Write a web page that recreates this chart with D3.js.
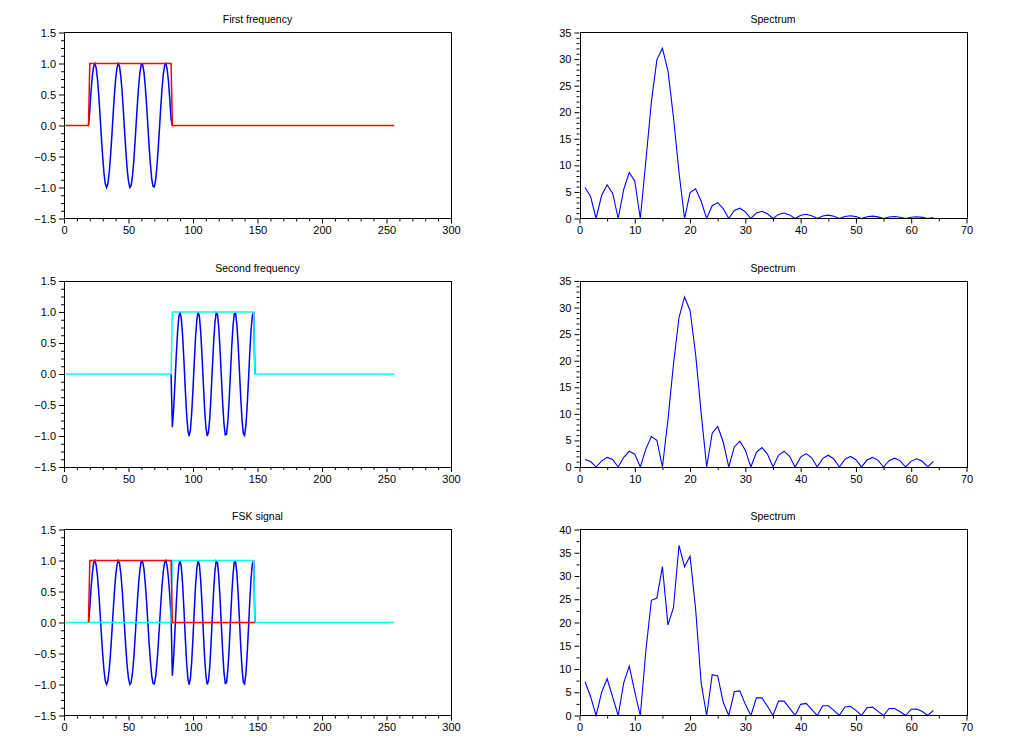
<!DOCTYPE html>
<html>
<head>
<meta charset="utf-8">
<script src="https://cdn.jsdelivr.net/npm/d3@7"></script>
<style>
  html, body { margin: 0; padding: 0; background: #ffffff; }
  svg { display: block; }
  text { font-family: "Liberation Sans", Arial, Helvetica, sans-serif; fill: #000; }
</style>
</head>
<body>
<svg id="chart" width="1031" height="748"></svg>
<script>
// ---------------- DATA ----------------
const titles = ["First frequency", "Spectrum", "Second frequency", "Spectrum", "FSK signal", "Spectrum"];

const signalLength = 256;
// first-frequency burst, samples 20..83 (zero elsewhere)
const sig1Start = 20;
const sig1 = [0.24,0.56,0.80,0.96,1.00,0.92,0.74,0.47,
              0.15,-0.20,-0.51,-0.77,-0.94,-1.00,-0.94,-0.77,
              -0.51,-0.20,0.15,0.47,0.74,0.92,1.00,0.96,
              0.80,0.56,0.24,-0.10,-0.43,-0.71,-0.90,-1.00,
              -0.97,-0.83,-0.60,-0.29,0.05,0.38,0.67,0.88,
              0.99,0.98,0.86,0.63,0.34,0.00,-0.34,-0.63,
              -0.86,-0.98,-0.99,-0.88,-0.67,-0.38,-0.05,0.29,
              0.60,0.83,0.97,1.00,0.90,0.71,0.43,0.10];
// second-frequency burst, samples 84..147 (zero elsewhere)
const sig2Start = 84;
const sig2 = [-0.86,-0.56,-0.15,0.29,0.67,0.92,1.00,0.88,
              0.60,0.20,-0.24,-0.63,-0.90,-1.00,-0.90,-0.63,
              -0.24,0.20,0.60,0.88,1.00,0.92,0.67,0.29,
              -0.15,-0.56,-0.86,-1.00,-0.94,-0.71,-0.34,0.10,
              0.51,0.83,0.99,0.96,0.74,0.38,-0.05,-0.47,
              -0.80,-0.98,-0.97,-0.77,-0.43,0.00,0.43,0.77,
              0.97,0.98,0.80,0.47,0.05,-0.38,-0.74,-0.96,
              -0.99,-0.83,-0.51,-0.10,0.34,0.71,0.94,1.00];

// rectangular windows (breakpoints)
const win1X = [1, 19, 20, 83, 84, 256];
const win1Y = [0, 0, 1, 1, 0, 0];
const win2X = [1, 83, 84, 147, 148, 256];
const win2Y = [0, 0, 1, 1, 0, 0];
const fskRedX = [19, 20, 83, 84, 148];
const fskRedY = [0, 1, 1, 0, 0];

// magnitude spectra, bins 1..64
const spec1 = [5.83,4.15,0,4.32,6.35,4.73,0,5.49,8.65,7.03,0,10.77,21.95,29.9,32.0,27.8,
               19.0,8.67,0,4.88,5.58,3.28,0,2.41,2.99,1.87,0,1.50,1.93,1.24,0,1.05,
               1.36,0.89,0,0.77,1.02,0.68,0,0.60,0.80,0.53,0,0.48,0.64,0.43,0,0.39,
               0.53,0.36,0,0.33,0.44,0.30,0,0.28,0.37,0.25,0,0.23,0.32,0.22,0,0.20];
const spec2 = [1.43,1.03,0,1.16,1.81,1.42,0,1.83,2.96,2.42,0,3.36,5.74,5.03,0,8.91,
               19.39,28.13,32.0,29.46,21.27,10.24,0,6.37,7.63,4.70,0,3.77,4.87,3.17,0,2.75,
               3.66,2.44,0,2.20,2.97,2.01,0,1.86,2.53,1.73,0,1.62,2.22,1.52,0,1.44,
               1.99,1.37,0,1.31,1.81,1.25,0,1.20,1.66,1.16,0,1.11,1.55,1.08,0,1.04];
const spec3 = [7.26,4.10,0,4.97,7.90,3.94,0,7.01,10.62,5.10,0,13.88,24.76,25.25,32.0,19.48,
               23.21,36.6,32.0,34.26,22.95,7.02,0,8.77,8.50,2.85,0,5.1,5.3,2.4,0,3.8,
               3.8,2.0,0,3.1,3.1,1.6,0,2.4,2.6,1.3,0,2.1,2.1,1.1,0,1.85,
               2.0,1.1,0,1.65,1.8,0.9,0,1.5,1.5,0.8,0,1.35,1.4,0.85,0,1.1];

// axis ticks
const sigXTicks = [0, 50, 100, 150, 200, 250, 300];
const sigXMinor = [10,20,30,40,60,70,80,90,110,120,130,140,160,170,180,190,210,220,230,240,260,270,280,290];
const sigYTicks = [-1.5, -1.0, -0.5, 0.0, 0.5, 1.0, 1.5];
const sigYMinor = [-1.375,-1.25,-1.125,-0.875,-0.75,-0.625,-0.375,-0.25,-0.125,0.125,0.25,0.375,0.625,0.75,0.875,1.125,1.25,1.375];
const specXTicks = [0, 10, 20, 30, 40, 50, 60, 70];
const specXMinor = [5, 15, 25, 35, 45, 55, 65];
const specYTicks35 = [0, 5, 10, 15, 20, 25, 30, 35];
const specYMinor35 = [1,2,3,4,6,7,8,9,11,12,13,14,16,17,18,19,21,22,23,24,26,27,28,29,31,32,33,34];
const specYTicks40 = [0, 5, 10, 15, 20, 25, 30, 35, 40];
const specYMinor40 = [2.5, 7.5, 12.5, 17.5, 22.5, 27.5, 32.5, 37.5];

const colBlue = "#0000ff", colRed = "#ff0000", colCyan = "#00ffff";

// ---------------- LAYOUT ----------------
const svg = d3.select("#chart");
svg.append("rect").attr("width", 1031).attr("height", 748).attr("fill", "#fff");

const rowTops = [32.5, 281, 529.5];
const plotH = 186;
const colLeft = [64, 579.5];
const plotW = 387;

// burst points: one zero sample on each side (the rest of the zero signal lies under the window line)
function burst(start, vals) {
  const pts = [[start - 1, 0]];
  vals.forEach((v, i) => pts.push([start + i, v]));
  pts.push([start + vals.length, 0]);
  return pts;
}
const zip = (xs, ys) => xs.map((x, i) => [x, ys[i]]);

function panel(row, col, cfg) {
  const x0 = colLeft[col], y0 = rowTops[row];
  const g = svg.append("g").attr("transform", `translate(${x0},${y0})`);
  const x = d3.scaleLinear().domain(cfg.xDomain).range([0, plotW]);
  const y = d3.scaleLinear().domain(cfg.yDomain).range([plotH, 0]);

  const gxm = g.append("g").attr("transform", `translate(0,${plotH})`)
    .call(d3.axisBottom(x).tickValues(cfg.xMinor).tickSize(3).tickFormat(""));
  const gym = g.append("g")
    .call(d3.axisLeft(y).tickValues(cfg.yMinor).tickSize(3).tickFormat(""));
  const gx = g.append("g").attr("transform", `translate(0,${plotH})`)
    .call(d3.axisBottom(x).tickValues(cfg.xTicks).tickSize(5).tickPadding(3)
      .tickFormat(d3.format("d")));
  const gy = g.append("g")
    .call(d3.axisLeft(y).tickValues(cfg.yTicks).tickSize(5).tickPadding(3)
      .tickFormat(cfg.yFormat));
  [gxm, gym, gx, gy].forEach(a => {
    a.select(".domain").remove();
    a.selectAll("line").attr("stroke", "#000").attr("stroke-width", 1);
    a.selectAll("text").attr("font-size", 11)
      .attr("font-family", '"Liberation Sans", Arial, sans-serif').attr("fill", "#000");
  });

  const line = d3.line().x(d => x(d[0])).y(d => y(d[1]));
  cfg.series.forEach(s => {
    g.append("path").datum(s.pts).attr("d", line)
      .attr("fill", "none").attr("stroke", s.color).attr("stroke-width", s.width)
      .attr("stroke-linejoin", "miter");
  });

  g.append("rect").attr("x", 0.5).attr("y", 0).attr("width", plotW).attr("height", plotH)
    .attr("fill", "none").attr("stroke", "#000").attr("stroke-width", 1)
    .attr("shape-rendering", "crispEdges");

  g.append("text").attr("x", plotW / 2).attr("y", -9.5).attr("text-anchor", "middle")
    .attr("font-size", 10.5).text(cfg.title);
}

const sigCfg = {
  xDomain: [0, 300], yDomain: [-1.5, 1.5],
  xTicks: sigXTicks, xMinor: sigXMinor, yTicks: sigYTicks, yMinor: sigYMinor,
  yFormat: d3.format(".1f")
};
const specX = s => s.map((v, i) => [i + 1, v]);
const specCfg = (vals, ymax, yt, ym) => ({
  xDomain: [0, 70], yDomain: [0, ymax],
  xTicks: specXTicks, xMinor: specXMinor, yTicks: yt, yMinor: ym,
  yFormat: d3.format("d"),
  series: [{ pts: specX(vals), color: colBlue, width: 1.1 }]
});

const fsk = sig1.concat(sig2);

panel(0, 0, Object.assign({}, sigCfg, { title: titles[0], series: [
  { pts: burst(sig1Start, sig1), color: colBlue, width: 1.5 },
  { pts: zip(win1X, win1Y), color: colRed, width: 1.5 }
]}));
panel(0, 1, Object.assign(specCfg(spec1, 35, specYTicks35, specYMinor35), { title: titles[1] }));

panel(1, 0, Object.assign({}, sigCfg, { title: titles[2], series: [
  { pts: burst(sig2Start, sig2), color: colBlue, width: 1.5 },
  { pts: zip(win2X, win2Y), color: colCyan, width: 1.5 }
]}));
panel(1, 1, Object.assign(specCfg(spec2, 35, specYTicks35, specYMinor35), { title: titles[3] }));

panel(2, 0, Object.assign({}, sigCfg, { title: titles[4], series: [
  { pts: burst(sig1Start, fsk), color: colBlue, width: 1.5 },
  { pts: zip(win2X, win2Y), color: colCyan, width: 1.5 },
  { pts: zip(fskRedX, fskRedY), color: colRed, width: 1.5 }
]}));
panel(2, 1, Object.assign(specCfg(spec3, 40, specYTicks40, specYMinor40), { title: titles[5] }));
</script>
</body>
</html>
